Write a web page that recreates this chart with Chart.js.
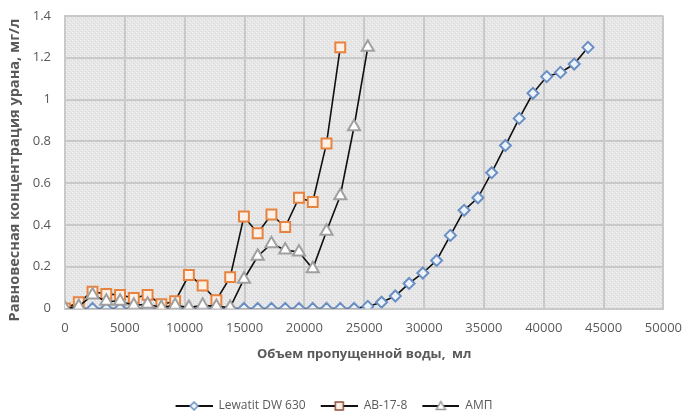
<!DOCTYPE html>
<html>
<head>
<meta charset="utf-8">
<script src="https://cdn.jsdelivr.net/npm/chart.js@4/dist/chart.umd.min.js"></script>
<style>
  html, body { margin: 0; padding: 0; background: #ffffff; }
  #wrap { width: 694px; height: 414px; position: relative; }
</style>
</head>
<body>
<div id="wrap"><canvas id="c" width="694" height="414"></canvas></div>
<script>
// Volume of water passed through the column, ml
const volumeMl = [0, 1150, 2300, 3450, 4600, 5750, 6900, 8050, 9200, 10350, 11500, 12650,
  13800, 14950, 16100, 17250, 18400, 19550, 20700, 21850, 23000, 24150, 25300, 26450,
  27600, 28750, 29900, 31050, 32200, 33350, 34500, 35650, 36800, 37950, 39100, 40250,
  41400, 42550, 43700];

// Equilibrium uranium concentration, mg/l
const lewatitDW630 = [0, 0, 0, 0, 0, 0, 0, 0, 0, 0, 0, 0, 0, 0, 0, 0, 0, 0, 0, 0, 0, 0,
  0.01, 0.03, 0.06, 0.12, 0.17, 0.23, 0.35, 0.47, 0.53, 0.65, 0.78, 0.91, 1.03, 1.11,
  1.13, 1.17, 1.25];
const av17_8 = [0, 0.03, 0.08, 0.07, 0.065, 0.05, 0.065, 0.02, 0.035, 0.16, 0.11, 0.04,
  0.15, 0.44, 0.36, 0.45, 0.39, 0.53, 0.51, 0.79, 1.25];
const amp = [0, 0.01, 0.065, 0.035, 0.035, 0.015, 0.02, 0.005, 0.015, 0.005, 0.015, 0.01,
  0.005, 0.14, 0.25, 0.31, 0.28, 0.27, 0.19, 0.37, 0.54, 0.87, 1.25];

const seriesNames = ['Lewatit DW 630', 'АВ-17-8', 'АМП'];
const xTitle = 'Объем пропущенной воды,  мл';
const yTitle = 'Равновесная концентрация урана, мг/л';

const textColor = '#595959';
const gridColor = '#c9c9c9';
const FONT = "'Open Sans', 'Noto Sans', sans-serif";

const styles = [
  { shape: 'rectRot', radius: 5.5, border: '#6a8fc4', fill: '#eef3fa', legendBorder: '#6a8fc4' },
  { shape: 'rect', radius: 7, border: '#e8833f', fill: '#fdf1e7', legendBorder: '#8e4b3c' },
  { shape: 'triangle', radius: 7, border: '#a0a0a0', fill: '#ffffff', legendBorder: '#9a9a9a' }
];

function toPoints(values) {
  return values.map((v, i) => ({ x: volumeMl[i], y: v }));
}

// Legend icon: a short black line with the series marker in its middle
function legendIcon(st) {
  const cv = document.createElement('canvas');
  cv.width = 49; cv.height = 14;
  const ctx = cv.getContext('2d');
  ctx.strokeStyle = '#111111';
  ctx.lineWidth = 2;
  ctx.beginPath();
  ctx.moveTo(12, 7); ctx.lineTo(49, 7);
  ctx.stroke();
  const cx = 30.5, cy = 7;
  ctx.beginPath();
  if (st.shape === 'rectRot') {
    ctx.moveTo(cx, cy - 4); ctx.lineTo(cx + 4, cy); ctx.lineTo(cx, cy + 4); ctx.lineTo(cx - 4, cy);
  } else if (st.shape === 'rect') {
    ctx.rect(cx - 4, cy - 4, 8, 8);
  } else {
    ctx.moveTo(cx, cy - 4.5); ctx.lineTo(cx + 4.5, cy + 3.5); ctx.lineTo(cx - 4.5, cy + 3.5);
  }
  ctx.closePath();
  ctx.fillStyle = st.fill;
  ctx.fill();
  ctx.lineWidth = 1.5;
  ctx.strokeStyle = st.legendBorder;
  ctx.stroke();
  return cv;
}

// Light grey dotted fill of the plotting area
function dottedPattern(ctx) {
  const p = document.createElement('canvas');
  p.width = 4; p.height = 4;
  const g = p.getContext('2d');
  g.fillStyle = '#e6e6e6';
  g.fillRect(0, 0, 4, 4);
  g.fillStyle = '#f2f2f2';
  g.fillRect(0, 0, 1, 1); g.fillRect(2, 2, 1, 1);
  g.fillStyle = '#dadada';
  g.fillRect(1, 3, 1, 1); g.fillRect(3, 1, 1, 1);
  return ctx.createPattern(p, 'repeat');
}

const plotBackground = {
  id: 'plotBackground',
  beforeDraw(chart) {
    const { ctx, chartArea: a } = chart;
    ctx.save();
    ctx.fillStyle = dottedPattern(ctx);
    ctx.fillRect(a.left, a.top, a.right - a.left, a.bottom - a.top);
    ctx.restore();
  }
};

// Vertical axis title, drawn rotated along the left edge
const yAxisTitle = {
  id: 'yAxisTitle',
  afterDraw(chart) {
    const ctx = chart.ctx;
    ctx.save();
    ctx.translate(15, 170);
    ctx.rotate(-Math.PI / 2);
    ctx.font = "bold 14.5px " + FONT;
    ctx.fillStyle = textColor;
    ctx.textAlign = 'center';
    ctx.textBaseline = 'middle';
    ctx.fillText(yTitle, 0, 0);
    ctx.restore();
  }
};

// Nudge the legend row slightly left of centre
const legendShift = {
  id: 'legendShift',
  afterLayout(chart) {
    if (chart.legend) {
      chart.legend.left -= 8;
      chart.legend.right -= 8;
    }
  }
};

const allValues = [lewatitDW630, av17_8, amp];
const icons = styles.map(legendIcon);

const datasets = allValues.map((vals, i) => ({
  label: seriesNames[i],
  data: toPoints(vals),
  borderColor: '#111111',
  borderWidth: 1.6,
  pointStyle: styles[i].shape,
  pointRadius: styles[i].radius,
  pointBorderColor: styles[i].border,
  pointBackgroundColor: styles[i].fill,
  pointBorderWidth: 2,
  tension: 0,
  order: 3 - i
}));

new Chart(document.getElementById('c'), {
  type: 'line',
  data: { datasets },
  plugins: [plotBackground, yAxisTitle, legendShift],
  options: {
    responsive: false,
    animation: false,
    events: [],
    layout: { autoPadding: false, padding: { left: 0, right: 22, top: 16, bottom: -8 } },
    plugins: {
      tooltip: { enabled: false },
      legend: {
        position: 'bottom',
        labels: {
          usePointStyle: true,
          pointStyleWidth: 49,
          padding: 3,
          color: textColor,
          font: { family: FONT, size: 12 },
          sort: (a, b) => a.datasetIndex - b.datasetIndex,
          generateLabels(chart) {
            return seriesNames.map((name, i) => ({
              text: name,
              datasetIndex: i,
              pointStyle: icons[i],
              fillStyle: 'transparent',
              strokeStyle: 'transparent',
              lineWidth: 0,
              fontColor: textColor,
              hidden: false
            }));
          }
        }
      }
    },
    scales: {
      x: {
        type: 'linear',
        min: 0,
        max: 50000,
        afterFit(scale) { scale.height = 88.5; },
        ticks: {
          stepSize: 5000,
          padding: 12,
          color: textColor,
          font: { family: FONT, size: 13 },
          maxRotation: 0,
          callback: (v) => String(v)
        },
        grid: { color: gridColor, lineWidth: 2, drawTicks: false },
        border: { color: gridColor, width: 2 },
        title: {
          display: true,
          text: xTitle,
          color: textColor,
          font: { family: FONT, size: 13, weight: 'bold' },
          padding: { top: 0, bottom: 35 }
        }
      },
      y: {
        min: 0,
        max: 1.4,
        afterFit(scale) {
          scale.width = 65;
          scale.paddingTop = 0;
          scale.paddingBottom = 0;
        },
        ticks: {
          stepSize: 0.2,
          padding: 14,
          color: textColor,
          font: { family: FONT, size: 13 },
          callback: (v) => String(Math.round(v * 10) / 10)
        },
        grid: { color: gridColor, lineWidth: 2, drawTicks: false },
        border: { color: gridColor, width: 2 },
        title: { display: false }
      }
    }
  }
});
</script>
</body>
</html>
